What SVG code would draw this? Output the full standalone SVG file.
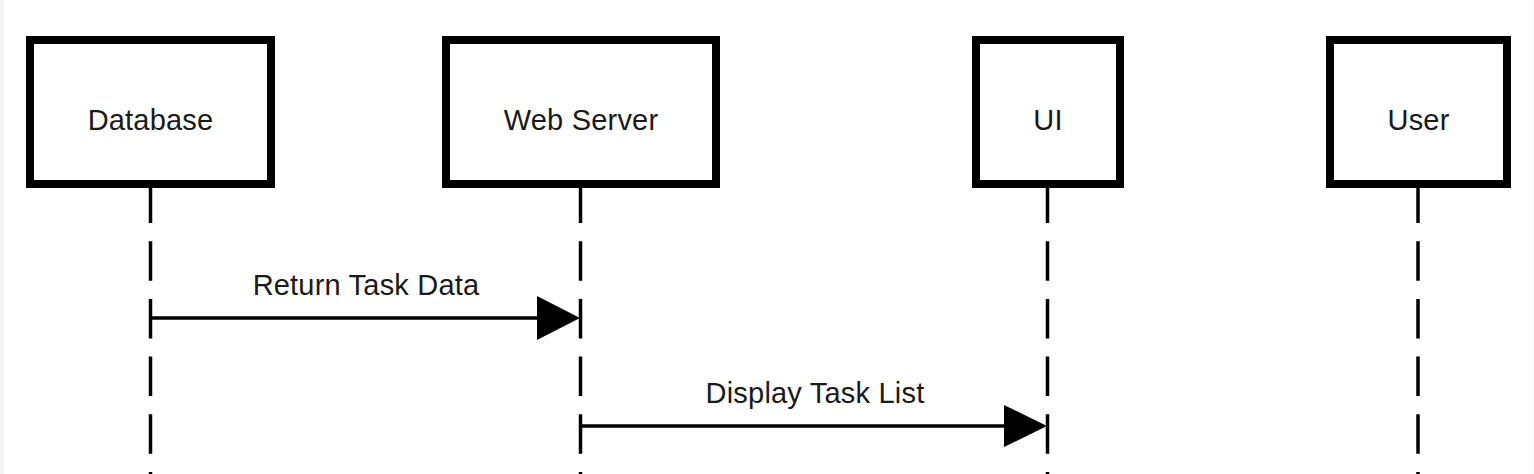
<svg xmlns="http://www.w3.org/2000/svg" width="1534" height="474" viewBox="0 0 1534 474">
<style>
.bg{fill:#ffffff}
.edge{fill:#f4f4f4}
.box{fill:#ffffff;stroke:#000000;stroke-width:8}
.life{stroke:#000000;stroke-width:3.5;stroke-dasharray:39.5 18.2;fill:none}
.msg{stroke:#000000;stroke-width:3.5;fill:none}
.head{fill:#000000}
text{font-family:"Liberation Sans",Arial,Helvetica,sans-serif;fill:#1a1a1a;text-anchor:middle}
.nl{font-size:29px;letter-spacing:0.2px}
.ml{font-size:29px;letter-spacing:0.2px}
</style>
<rect class="bg" x="0" y="0" width="1534" height="474"/>
<rect class="edge" x="0" y="0" width="4" height="474"/>
<rect class="edge" x="1533" y="0" width="1" height="474"/>
<g id="lifelines">
<line class="life" x1="150.5" y1="183.5" x2="150.5" y2="474"/>
<line class="life" x1="580.5" y1="183.5" x2="580.5" y2="474"/>
<line class="life" x1="1047.5" y1="183.5" x2="1047.5" y2="474"/>
<line class="life" x1="1418" y1="183.5" x2="1418" y2="474"/>
</g>
<g id="node-database">
<rect class="box" x="30" y="40" width="241" height="144"/>
<text class="nl" x="150.5" y="130">Database</text>
</g>
<g id="node-webserver">
<rect class="box" x="446" y="40" width="270" height="144"/>
<text class="nl" x="581" y="130">Web Server</text>
</g>
<g id="node-ui">
<rect class="box" x="976" y="40" width="144" height="144"/>
<text class="nl" x="1048" y="130">UI</text>
</g>
<g id="node-user">
<rect class="box" x="1330" y="40" width="177" height="144"/>
<text class="nl" x="1418.5" y="130">User</text>
</g>
<g id="connectors">
<g id="msg-return-task-data">
<line class="msg" x1="150.5" y1="318" x2="540" y2="318"/>
<polygon class="head" points="580,318 537,296 537,340"/>
<text class="ml" x="366" y="295">Return Task Data</text>
</g>
<g id="msg-display-task-list">
<line class="msg" x1="580.5" y1="426" x2="1007" y2="426"/>
<polygon class="head" points="1047,426 1004,405 1004,447"/>
<text class="ml" x="815" y="403">Display Task List</text>
</g>
</g>
</svg>
